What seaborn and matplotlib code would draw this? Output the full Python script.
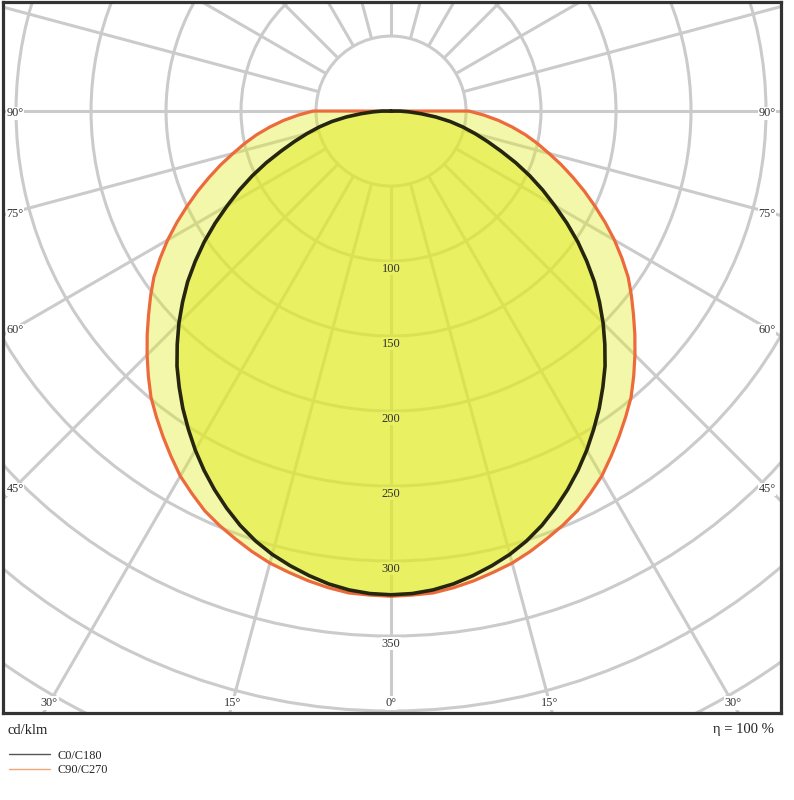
import numpy as np
import pandas as pd
import matplotlib
matplotlib.use("Agg")
import matplotlib.pyplot as plt
from matplotlib.patches import Circle
from matplotlib.lines import Line2D
import seaborn as sns

# luminous intensity (cd/klm), 0° = straight down, 2.5° steps
angles = [0, 2.5, 5, 7.5, 10, 12.5, 15, 17.5, 20, 22.5, 25, 27.5, 30, 32.5, 35, 37.5,
          40, 42.5, 45, 47.5, 50, 52.5, 55, 57.5, 60, 62.5, 65, 67.5, 70, 72.5, 75,
          77.5, 80, 82.5, 85, 87.5, 90]
c0_c180 = [322.5, 322, 320.5, 318, 314.5, 310.5, 306, 300.5, 294, 286.5, 278.5, 270, 261,
           251.5, 242, 232, 222, 211, 200, 188.5, 177, 164.5, 152, 139, 126, 114, 102,
           90, 78, 67.5, 58, 49, 40, 30, 20, 12, 6]
c90_c270 = [323.5, 323, 322.5, 320.5, 318, 315, 312, 308, 303.5, 299, 294, 287.5, 281,
            273, 265, 257, 249, 239.5, 230, 220.5, 211, 202, 193, 182.5, 172, 161, 150,
            139.5, 129, 119, 109, 100, 91, 81.5, 72, 62, 52]

ring_values = [50, 100, 150, 200, 250, 300, 350, 400, 450, 500]
ring_labels = [100, 150, 200, 250, 300, 350]
spoke_angles = list(range(0, 360, 15))
side_labels = [90, 75, 60, 45]
bottom_labels = [30, 15, 0]

sns.set_style("white")
plt.rcParams['font.family'] = ['Liberation Serif', 'DejaVu Serif']


def curve_frame(values, name):
    # mirror the half curve and close it through the centre
    th = np.array([-a for a in angles[::-1]] + angles[1:], dtype=float)
    r = np.array(values[::-1] + values[1:], dtype=float)
    x = r * np.sin(np.radians(th))
    y = -r * np.cos(np.radians(th))
    x = np.concatenate([[0], x, [0]])
    y = np.concatenate([[0], y, [0]])
    return pd.DataFrame({'x': x, 'y': y, 'curve': name})


df = pd.concat([curve_frame(c0_c180, 'C0/C180'), curve_frame(c90_c270, 'C90/C270')],
               ignore_index=True)

fig = plt.figure(figsize=(7.94, 8.0), dpi=100)
ax = fig.add_axes([3 / 794, 87 / 800, 778 / 794, 711 / 800])
ax.set_xlim(-258.7, 260)
ax.set_ylim(-401.3, 72.7)
ax.set_aspect('equal')

grid_col = '#cbcbcb'
for rv in ring_values:
    ax.add_patch(Circle((0, 0), rv, fill=False, ec=grid_col, lw=2.2, zorder=1))
for a in spoke_angles:
    t = np.radians(a)
    ax.plot([50 * np.sin(t), 700 * np.sin(t)], [-50 * np.cos(t), -700 * np.cos(t)],
            color=grid_col, lw=2.2, zorder=1, solid_capstyle='butt')

# white patches behind the ring labels (sit under the fill)
for v in ring_labels:
    ax.text(0, -(v + 5), str(v), ha='center', va='center', fontsize=9, color='none',
            bbox=dict(fc='white', ec='none', pad=0.6), zorder=2)

yellow = '#e1eb28'
orange = df[df['curve'] == 'C90/C270']
black = df[df['curve'] == 'C0/C180']
ax.fill(orange['x'], orange['y'], color=yellow, alpha=0.4, lw=0, zorder=3)
ax.fill(black['x'], black['y'], color=yellow, alpha=0.55, lw=0, zorder=3)

sns.lineplot(data=df, x='x', y='y', hue='curve', units='curve', estimator=None, sort=False,
             palette={'C0/C180': '#26260f', 'C90/C270': '#ec6a3c'},
             hue_order=['C90/C270', 'C0/C180'], legend=False, ax=ax, zorder=4)
for line in ax.lines[-2:]:
    line.set_solid_joinstyle('round')
    if line.get_color() == '#26260f':
        line.set_linewidth(2.6)
    else:
        line.set_linewidth(2.3)
ax.set_xlabel('')
ax.set_ylabel('')

for v in ring_labels:
    ax.text(0, -(v + 5), str(v), ha='center', va='center', fontsize=9, color='#333333',
            zorder=6)

lab_kw = dict(ha='center', va='center', fontsize=8.8, color='#333333', zorder=6,
              bbox=dict(fc='white', ec='none', pad=0.5))
d_side = 250.7
for a in side_labels:
    t = np.radians(a)
    yv = -d_side * np.cos(t) / np.sin(t)
    ax.text(-d_side, yv - 1.5, f'{a}°', **lab_kw)
    ax.text(d_side, yv - 1.5, f'{a}°', **lab_kw)
d_bot = 394.7
for a in bottom_labels:
    xv = d_bot * np.tan(np.radians(a))
    ax.text(-xv, -d_bot, f'{a}°', **lab_kw)
    if a:
        ax.text(xv, -d_bot, f'{a}°', **lab_kw)

ax.set_xticks([])
ax.set_yticks([])
for sp in ax.spines.values():
    sp.set_visible(True)
    sp.set_color('#333333')
    sp.set_linewidth(2.3)
    sp.set_zorder(7)

fig.text(8 / 794, 1 - 730 / 800, 'cd/klm', ha='left', va='center', fontsize=10.5, color='#222222')
fig.text(774 / 794, 1 - 729 / 800, 'η = 100 %', ha='right', va='center', fontsize=10.5,
         color='#222222')

handles = [Line2D([], [], color='#555555', lw=1.0), Line2D([], [], color='#f0a57a', lw=1.0)]
fig.legend(handles, ['C0/C180', 'C90/C270'], loc='upper left',
           bbox_to_anchor=(0 / 794, 1 - 741 / 800), frameon=False, fontsize=8.8,
           handlelength=3.4, handletextpad=0.6, labelspacing=0.2, borderpad=0.2)

fig.savefig('out.png', dpi=100)
